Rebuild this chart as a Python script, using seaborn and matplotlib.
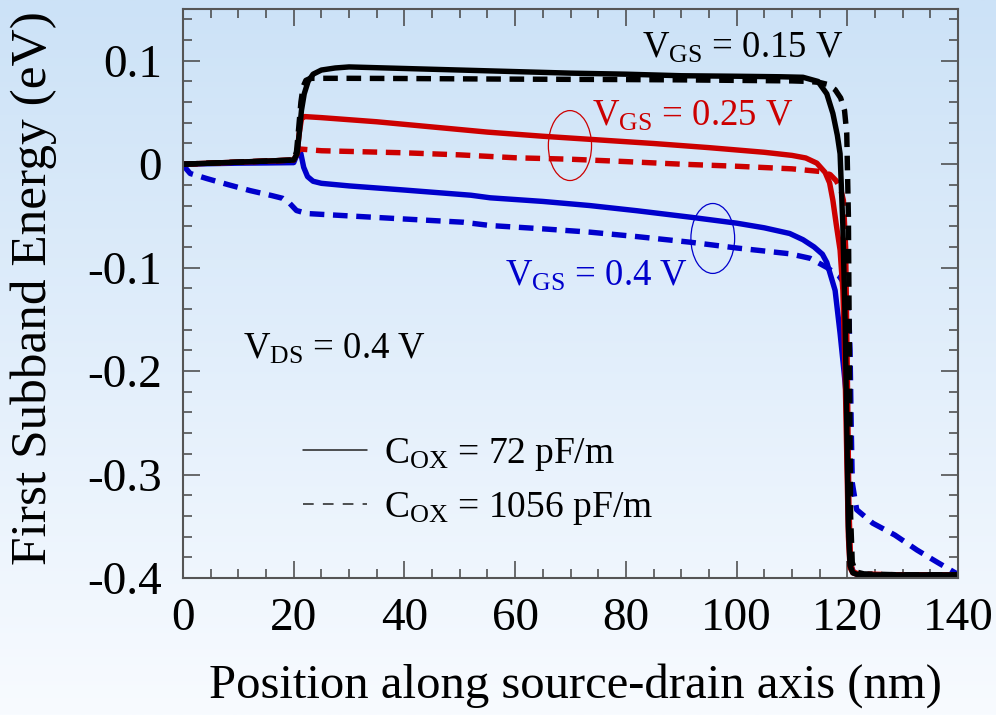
import numpy as np
import pandas as pd
import matplotlib
matplotlib.use("Agg")
import matplotlib.pyplot as plt
import seaborn as sns
from matplotlib.lines import Line2D
from matplotlib.patches import Ellipse
from matplotlib.ticker import MultipleLocator, FixedLocator, FixedFormatter
from matplotlib.colors import LinearSegmentedColormap

# ---------------- data ----------------
# V_GS = 0.15 V, C_OX = 72 pF/m
bs_x = [0, 5, 10, 15, 20, 20.6, 21.0, 21.4, 21.9, 22.6, 23.5, 25, 27.5, 30, 40, 50, 60, 70, 80, 90,
        100, 108, 112, 114.7, 116.3, 117.4, 118.2, 118.7, 119.2, 119.6, 119.9, 120.2, 120.5, 121, 122, 130, 140]
bs_y = [0.000, 0.001, 0.002, 0.003, 0.004, 0.010, 0.030, 0.052, 0.068, 0.080, 0.087, 0.091, 0.093, 0.094,
        0.0925, 0.091, 0.0895, 0.088, 0.087, 0.0855, 0.085, 0.0845, 0.084, 0.080, 0.068, 0.049, 0.028, 0.010,
        -0.060, -0.150, -0.250, -0.350, -0.388, -0.395, -0.397, -0.397, -0.397]
# V_GS = 0.15 V, C_OX = 1056 pF/m
bd_x = [0, 5, 10, 15, 20, 20.5, 20.9, 21.3, 21.7, 22.2, 23, 30, 40, 50, 60, 70, 80, 90, 100, 110, 113,
        115, 116.5, 117.8, 118.8, 119.5, 119.9, 120.2, 120.4, 120.6, 120.9, 121.5, 123, 130, 140]
bd_y = [0, 0.001, 0.002, 0.003, 0.004, 0.012, 0.035, 0.060, 0.075, 0.081, 0.083, 0.083, 0.0828, 0.0825,
        0.0822, 0.082, 0.0818, 0.0815, 0.081, 0.0805, 0.080, 0.079, 0.077, 0.072, 0.064, 0.052, 0.030,
        -0.050, -0.200, -0.340, -0.385, -0.394, -0.396, -0.397, -0.397]
# V_GS = 0.25 V, C_OX = 72 pF/m
rs_x = [0, 5, 10, 15, 20, 20.6, 21.0, 21.4, 22, 25, 30, 35, 45, 55, 65, 75, 85, 95, 105, 110, 112.5,
        114.5, 116, 116.8, 117.4, 118.0, 118.7, 119.2, 119.6, 119.9, 120.2, 120.5, 121, 122, 130, 140]
rs_y = [0, 0.001, 0.002, 0.003, 0.004, 0.010, 0.030, 0.044, 0.046, 0.045, 0.043, 0.041, 0.036, 0.031,
        0.027, 0.0235, 0.020, 0.016, 0.0115, 0.0085, 0.006, 0.001, -0.008, -0.018, -0.035, -0.058, -0.083,
        -0.122, -0.20, -0.28, -0.36, -0.39, -0.395, -0.397, -0.397, -0.397]
# V_GS = 0.25 V, C_OX = 1056 pF/m
rd_x = [0, 5, 10, 15, 20, 20.5, 20.9, 21.5, 25, 40, 50, 60, 70, 80, 90, 100, 110, 113, 115, 116.9,
        118, 118.8, 119.3, 119.7, 120.0, 120.3, 120.6, 121, 122, 130, 140]
rd_y = [0, 0.001, 0.002, 0.003, 0.004, 0.008, 0.014, 0.0145, 0.013, 0.011, 0.009, 0.0062, 0.0048,
        0.0025, 0.0000, -0.002, -0.0045, -0.006, -0.007, -0.010, -0.016, -0.024, -0.035, -0.080, -0.200,
        -0.330, -0.385, -0.394, -0.396, -0.397, -0.397]
# V_GS = 0.4 V, C_OX = 72 pF/m
ls_x = [0, 5, 10, 15, 20, 20.5, 20.9, 21.3, 21.8, 22.5, 23.5, 25, 30, 40, 52, 55.5, 65, 73.5, 82, 91.6,
        100, 105, 109.6, 112, 114, 115.5, 116.3, 117.8, 118.7, 119.4, 119.9, 120.1, 120.3, 120.6, 121.2,
        122, 130, 140]
ls_y = [0, 0.0005, 0.001, 0.0012, 0.0015, 0.008, 0.016, 0.010, -0.003, -0.012, -0.0165, -0.0185, -0.021,
        -0.025, -0.030, -0.0325, -0.036, -0.040, -0.045, -0.0512, -0.057, -0.0615, -0.067, -0.073, -0.080,
        -0.087, -0.095, -0.122, -0.1635, -0.200, -0.228, -0.308, -0.36, -0.388, -0.395, -0.397, -0.397,
        -0.397]
# V_GS = 0.4 V, C_OX = 1056 pF/m
ld_x = [0, 0.5, 1.3, 4.3, 8.1, 12.1, 16, 18, 19.3, 20.5, 22.4, 30, 40, 50.6, 55.5, 65, 73.5, 82, 91.6,
        100, 109.6, 113.3, 116.3, 118.5, 119.9, 120.3, 120.5, 120.7, 120.9, 121.7, 124.6, 128.6, 132.6,
        136.2, 139.5, 140]
ld_y = [0, -0.004, -0.009, -0.0139, -0.0197, -0.0255, -0.0303, -0.033, -0.038, -0.0448, -0.0477, -0.050,
        -0.053, -0.0561, -0.0593, -0.0625, -0.0657, -0.070, -0.0754, -0.081, -0.0866, -0.091, -0.0998,
        -0.108, -0.119, -0.150, -0.180, -0.250, -0.308, -0.334, -0.347, -0.3585, -0.373, -0.3846, -0.395,
        -0.397]

vgs_levels = ["0.4", "0.25", "0.15"]
cox_levels = ["72", "1056"]
series = [("0.4", "72", ls_x, ls_y), ("0.25", "72", rs_x, rs_y), ("0.15", "72", bs_x, bs_y),
          ("0.4", "1056", ld_x, ld_y), ("0.25", "1056", rd_x, rd_y), ("0.15", "1056", bd_x, bd_y)]

x_ticks = [0, 20, 40, 60, 80, 100, 120, 140]
y_ticks = [-0.4, -0.3, -0.2, -0.1, 0.0, 0.1]
y_tick_labels = ["-0.4", "-0.3", "-0.2", "-0.1", "0", "0.1"]

rows = []
for vgs, cox, xs, ys in series:
    for i, (xv, yv) in enumerate(zip(xs, ys)):
        rows.append({"pos": xv, "energy": yv, "vgs": vgs, "cox": cox, "order": i})
df = pd.DataFrame(rows)

# ---------------- style ----------------
sns.set_style("ticks")
plt.rcParams["font.family"] = ["Liberation Serif", "DejaVu Serif"]
plt.rcParams["mathtext.fontset"] = "custom"
plt.rcParams["mathtext.rm"] = "Liberation Serif"
plt.rcParams["mathtext.it"] = "Liberation Serif:italic"
plt.rcParams["axes.unicode_minus"] = False
plt.rcParams["text.color"] = "black"
plt.rcParams["axes.labelcolor"] = "black"
plt.rcParams["xtick.labelcolor"] = "black"
plt.rcParams["ytick.labelcolor"] = "black"

fig = plt.figure(figsize=(9.96, 7.15), dpi=100)

# gradient background
bg = fig.add_axes([0, 0, 1, 1], zorder=-10)
cmap = LinearSegmentedColormap.from_list("bg", ["#cce2f7", "#f8fbff"])
grad = np.linspace(0, 1, 256).reshape(-1, 1)
bg.imshow(grad, aspect="auto", cmap=cmap, extent=[0, 1, 0, 1], origin="upper")
bg.set_axis_off()

ax = fig.add_axes([183 / 996, (715 - 578) / 715, 775 / 996, 569 / 715])
ax.set_facecolor("none")

palette = {"0.15": "#000000", "0.25": "#cc0000", "0.4": "#0000cc"}
dashes = {"72": "", "1056": (2.7, 1.6)}
sns.lineplot(data=df, x="pos", y="energy", hue="vgs", style="cox", hue_order=vgs_levels,
             style_order=cox_levels, palette=palette, dashes=dashes, sort=False, estimator=None,
             legend=False, lw=3.9, ax=ax)

ax.set_xlim(0, 140)
ax.set_ylim(-0.4, 0.15)
ax.xaxis.set_major_locator(FixedLocator(x_ticks))
ax.xaxis.set_minor_locator(MultipleLocator(5))
ax.yaxis.set_major_locator(FixedLocator(y_ticks))
ax.yaxis.set_major_formatter(FixedFormatter(y_tick_labels))
ax.yaxis.set_minor_locator(MultipleLocator(0.02))
ax.tick_params(which="both", direction="in", top=True, right=True, color="#444444", width=1.1,
               labelcolor="black")
ax.tick_params(which="major", length=12.5, labelsize=34, pad=14)
ax.tick_params(which="minor", length=6.5)
ax.tick_params(axis="y", which="major", pad=15)
for s in ax.spines.values():
    s.set_color("#555555")
    s.set_linewidth(1.5)

ax.set_xlabel("Position along source-drain axis (nm)", fontsize=35, color="black")
ax.set_ylabel("First Subband Energy (eV)", fontsize=37, color="black")
ax.xaxis.set_label_coords(0.506, -0.150)
ax.yaxis.set_label_coords(-0.163, 0.51)

# annotations
ax.text(82.9, 0.1029, r"V$_{\rm GS}$ = 0.15 V", color="#000000", fontsize=26.5, ha="left", va="baseline")
ax.text(73.9, 0.0373, r"V$_{\rm GS}$ = 0.25 V", color="#cc0000", fontsize=26.5, ha="left", va="baseline")
ax.text(58.2, -0.1172, r"V$_{\rm GS}$ = 0.4 V", color="#0000cc", fontsize=26.5, ha="left", va="baseline")
ax.text(10.8, -0.1876, r"V$_{\rm DS}$ = 0.4 V", color="#000000", fontsize=26.5, ha="left", va="baseline")

ax.add_patch(Ellipse((69.9, 0.018), 7.8, 0.0676, fill=False, ec="#cc0000", lw=0.9))
ax.add_patch(Ellipse((95.7, -0.0718), 7.9, 0.0676, fill=False, ec="#0000cc", lw=0.9))

handles = [Line2D([], [], color="#222222", lw=1.1),
           Line2D([], [], color="#222222", lw=1.1, ls=(0, (7, 6)))]
labels = [r"C$_{\rm OX}$ = 72 pF/m", r"C$_{\rm OX}$ = 1056 pF/m"]
ax.legend(handles, labels, loc="upper left", bbox_to_anchor=(0.155, 0.25), frameon=False,
          fontsize=27, handlelength=1.7, handletextpad=0.45, labelspacing=0.45, borderpad=0,
          borderaxespad=0)

fig.savefig("out.png", dpi=100)
